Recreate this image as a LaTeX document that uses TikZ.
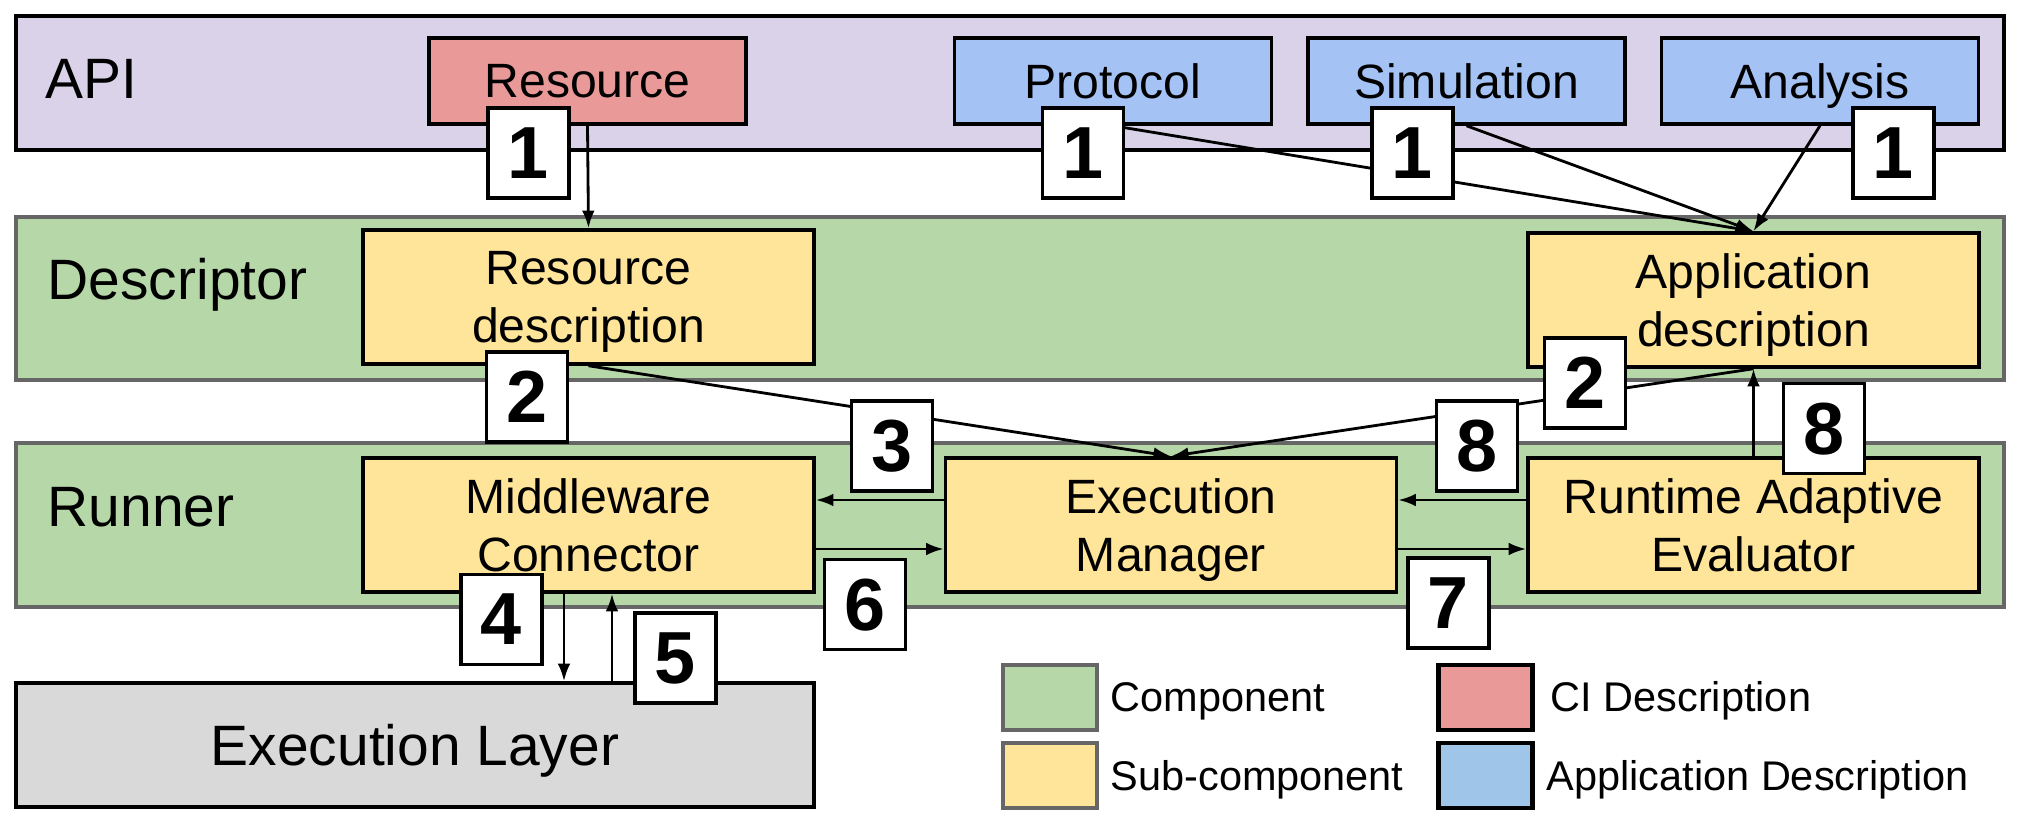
\documentclass[tikz,border=0pt]{standalone}
\usepackage{fontspec}
\setmainfont{Liberation Sans}
\usepackage{tikz}
\usetikzlibrary{arrows.meta,positioning,calc}
\definecolor{apiback}{HTML}{D9D2E9}
\definecolor{compgreen}{HTML}{B6D7A8}
\definecolor{subyellow}{HTML}{FFE599}
\definecolor{cired}{HTML}{EA9999}
\definecolor{appblue}{HTML}{A4C2F4}
\definecolor{legblue}{HTML}{9FC5E8}
\definecolor{layergray}{HTML}{D9D9D9}
\definecolor{edgegray}{HTML}{666666}
\tikzset{
  band/.style={draw=edgegray, line width=1pt, fill=compgreen, minimum width=19.88cm, minimum height=1.64cm},
  bandlabel/.style={anchor=base west, inner sep=0pt, font=\fontsize{16.2}{19}\selectfont},
  sub/.style={draw, line width=1pt, fill=subyellow, minimum width=4.51cm, minimum height=1.34cm, align=center,
    text depth=0pt, font=\fontsize{13.7}{16.6}\selectfont},
  desc/.style={draw, line width=1pt, minimum width=3.17cm, minimum height=0.86cm, text depth=0pt,
    font=\fontsize{13.7}{16.6}\selectfont},
  num/.style={draw, line width=1pt, fill=white, minimum width=0.81cm, minimum height=0.9cm, inner sep=0pt,
    text depth=0pt, font=\fontsize{21}{24}\selectfont\bfseries},
  swatch/.style={draw, line width=1.2pt, minimum width=0.94cm, minimum height=0.65cm},
  legtext/.style={anchor=base west, inner sep=0pt, font=\fontsize{11.8}{14}\selectfont},
  arr/.style={-{Latex[length=5pt,width=3.6pt]}, line width=0.8pt}
}

\begin{document}
\begin{tikzpicture}
  \useasboundingbox (0,0) rectangle (20.22,-8.20);
  % layers
  \node[band, draw=black, fill=apiback, minimum height=1.34cm] (api) at (10.10,-0.83) {};
  \node[band, minimum height=1.63cm] (descband) at (10.10,-2.985) {};
  \node[band] (runband) at (10.10,-5.25) {};
  \node[bandlabel] (apilab) at (0.45,-0.99) {API};
  \node[bandlabel] (desclab) at (0.47,-3.00) {Descriptor};
  \node[bandlabel] (runlab) at (0.47,-5.27) {Runner};
  % API inputs
  \node[desc, fill=cired] (res) at (5.875,-0.81) {Resource};
  \node[desc, fill=appblue] (proto) at (11.13,-0.81) {Protocol};
  \node[desc, fill=appblue] (sim) at (14.665,-0.81) {Simulation};
  \node[desc, fill=appblue] (ana) at (18.20,-0.81) {Analysis};
  % sub-components
  \node[sub] (resdesc) at (5.885,-2.97) {Resource\\description};
  \node[sub] (appdesc) at (17.535,-3.00) {Application\\description};
  \node[sub] (mw) at (5.885,-5.25) {Middleware\\Connector};
  \node[sub] (em) at (11.71,-5.25) {Execution\\Manager};
  \node[sub] (rae) at (17.535,-5.25) {Runtime Adaptive\\Evaluator};
  \node[draw, line width=1pt, fill=layergray, minimum width=7.98cm, minimum height=1.24cm, text depth=0pt,
    font=\fontsize{16.2}{19}\selectfont] (exl) at (4.15,-7.45) {Execution Layer};
  % flows
  \draw[arr] (res.south) -- (resdesc.north);
  \draw[arr] (proto.south) -- (appdesc.north);
  \draw[arr] (sim.south) -- (appdesc.north);
  \draw[arr] (ana.south) -- (appdesc.north);
  \draw[arr] (resdesc.south) -- (em.north);
  \draw[arr] (appdesc.south) -- (em.north);
  \draw[arr] ([yshift=0.25cm]em.west) -- ([yshift=0.25cm]em.west -| mw.east);
  \draw[arr] ([yshift=-0.24cm]mw.east) -- ([yshift=-0.24cm]mw.east -| em.west);
  \draw[arr] ([yshift=0.25cm]rae.west) -- ([yshift=0.25cm]rae.west -| em.east);
  \draw[arr] ([yshift=-0.24cm]em.east) -- ([yshift=-0.24cm]em.east -| rae.west);
  \draw[arr] (rae.north) -- (appdesc.south);
  \draw[arr] ([xshift=-0.245cm]mw.south) -- ([xshift=-0.245cm]mw.south |- exl.north);
  \draw[arr] ([xshift=0.235cm]mw.south |- exl.north) -- ([xshift=0.235cm]mw.south);
  % step numbers
  \node[num] (n1a) at (5.285,-1.53) {1};
  \node[num] (n1b) at (10.83,-1.53) {1};
  \node[num] (n1c) at (14.125,-1.53) {1};
  \node[num] (n1d) at (18.935,-1.53) {1};
  \node[num] (n2a) at (5.27,-3.97) {2};
  \node[num] (n2b) at (15.85,-3.83) {2};
  \node[num] (n3) at (8.92,-4.46) {3};
  \node[num] (n8a) at (14.77,-4.46) {8};
  \node[num] (n8b) at (18.24,-4.285) {8};
  \node[num] (n4) at (5.015,-6.195) {4};
  \node[num] (n5) at (6.755,-6.58) {5};
  \node[num] (n6) at (8.65,-6.045) {6};
  \node[num] (n7) at (14.485,-6.03) {7};
  % legend
  \node[swatch, draw=edgegray, fill=compgreen] (legcomp) at (10.50,-6.975) {};
  \node[swatch, draw=edgegray, fill=subyellow] (legsub) at (10.50,-7.755) {};
  \node[swatch, fill=cired] (legci) at (14.855,-6.975) {};
  \node[swatch, fill=legblue] (legapp) at (14.855,-7.755) {};
  \node[legtext] (legcomptext) at (11.10,-7.12) {Component};
  \node[legtext] (legsubtext) at (11.10,-7.90) {Sub-component};
  \node[legtext] (legcitext) at (15.50,-7.12) {CI Description};
  \node[legtext] (legapptext) at (15.46,-7.90) {Application Description};
\end{tikzpicture}
\end{document}
